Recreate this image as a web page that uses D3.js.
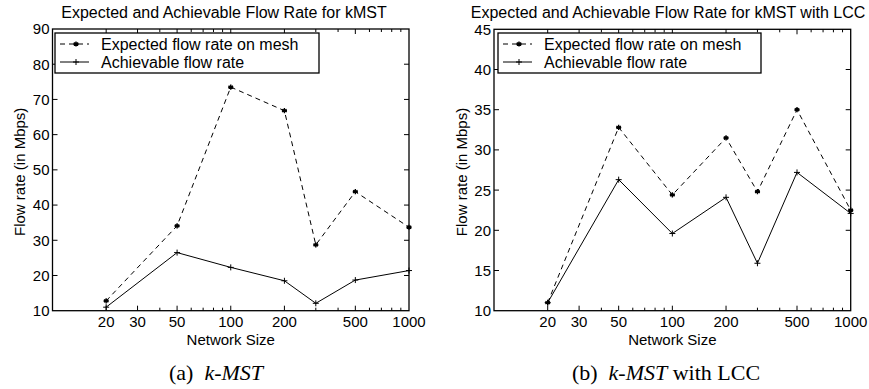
<!DOCTYPE html>
<html>
<head>
<meta charset="utf-8">
<script src="https://cdn.jsdelivr.net/npm/d3@7"></script>
<style>
  body { margin: 0; background: #fff; }
  svg { display: block; }
  .sans { font-family: "Liberation Sans", Arial, Helvetica, sans-serif; }
  .serif { font-family: "Liberation Serif", "Times New Roman", serif; }
</style>
</head>
<body>
<div class="flowChart"></div>
<script>
// network sizes on the log x axis
const networkSizes = [20, 50, 100, 200, 300, 500, 1000];
const xTickLabels = [20, 30, 50, 100, 200, 500, 1000];

// panel (a) k-MST
const expectedKmst = [12.8, 34.1, 73.5, 66.8, 28.7, 43.8, 33.7];
const achievableKmst = [11.0, 26.5, 22.3, 18.5, 12.1, 18.7, 21.4];
const yTicksKmst = [10, 20, 30, 40, 50, 60, 70, 80, 90];

// panel (b) k-MST with LCC
const expectedLcc = [11.0, 32.8, 24.4, 31.5, 24.8, 35.0, 22.5];
const achievableLcc = [11.0, 26.3, 19.6, 24.1, 15.9, 27.2, 22.1];
const yTicksLcc = [10, 15, 20, 25, 30, 35, 40, 45];

const legendLabels = ["Expected flow rate on mesh", "Achievable flow rate"];

const W = 869, H = 389;
const svg = d3.select(".flowChart").append("svg")
  .attr("width", W).attr("height", H);

// small "*" and "+" markers like the matlab ones
const starPath = (r) => {
  let p = "";
  for (let a = 0; a < 180; a += 60) {
    const t = (a + 90) * Math.PI / 180;
    p += `M${-r * Math.cos(t)},${-r * Math.sin(t)}L${r * Math.cos(t)},${r * Math.sin(t)}`;
  }
  return p + `M${-r},0L${r},0`;
};
const plusPath = (r) => `M${-r},0L${r},0M0,${-r}L0,${r}`;

const drawPanel = (opts) => {
  const { left, right, top, bottom, yMax, yTicks, expected, achievable,
    title, titleX, yLabelX, legend, caption, captionX } = opts;

  const x = d3.scaleLog().domain([10, 1000]).range([left, right]);
  const y = d3.scaleLinear().domain([10, yMax]).range([bottom, top]);
  const g = svg.append("g");

  // frame
  g.append("rect")
    .attr("x", left).attr("y", top)
    .attr("width", right - left).attr("height", bottom - top)
    .attr("fill", "none").attr("stroke", "#000").attr("stroke-width", 1.3);

  // x ticks: log minor ticks, inside, top and bottom
  const minor = [];
  for (let d = 10; d < 1000; d *= 10)
    for (let k = 1; k < 10; k++) minor.push(d * k);
  const xt = minor.filter((v) => v > 10 && v < 1000);
  xt.forEach((v) => {
    const len = xTickLabels.includes(v) ? 5 : 3;
    g.append("line").attr("x1", x(v)).attr("x2", x(v))
      .attr("y1", bottom).attr("y2", bottom - len)
      .attr("stroke", "#000").attr("stroke-width", 1);
    g.append("line").attr("x1", x(v)).attr("x2", x(v))
      .attr("y1", top).attr("y2", top + len)
      .attr("stroke", "#000").attr("stroke-width", 1);
  });

  // x tick labels
  g.selectAll(".xl").data(xTickLabels).enter().append("text")
    .attr("class", "sans")
    .attr("x", (d) => x(d)).attr("y", bottom + 16)
    .attr("text-anchor", "middle").attr("font-size", 15)
    .text((d) => d);

  // y ticks, both sides
  yTicks.forEach((v) => {
    if (v === yTicks[0] || v === yTicks[yTicks.length - 1]) return;
    g.append("line").attr("x1", left).attr("x2", left + 5)
      .attr("y1", y(v)).attr("y2", y(v)).attr("stroke", "#000");
    g.append("line").attr("x1", right).attr("x2", right - 5)
      .attr("y1", y(v)).attr("y2", y(v)).attr("stroke", "#000");
  });
  g.selectAll(".yl").data(yTicks).enter().append("text")
    .attr("class", "sans")
    .attr("x", left - 3).attr("y", (d) => y(d))
    .attr("dy", "0.36em")
    .attr("text-anchor", "end").attr("font-size", 15)
    .text((d) => d);

  // labels and title
  g.append("text").attr("class", "sans")
    .attr("x", (left + right) / 2).attr("y", bottom + 34)
    .attr("text-anchor", "middle").attr("font-size", 15)
    .text("Network Size");
  g.append("text").attr("class", "sans")
    .attr("transform", `translate(${yLabelX},${(top + bottom) / 2 + 2}) rotate(-90)`)
    .attr("text-anchor", "middle").attr("font-size", 15)
    .text("Flow rate (in Mbps)");
  g.append("text").attr("class", "sans")
    .attr("x", titleX).attr("y", 18)
    .attr("text-anchor", "middle").attr("font-size", 16)
    .text(title);

  // lines
  const line = d3.line().x((d) => x(d[0])).y((d) => y(d[1]));
  const expData = d3.zip(networkSizes, expected);
  const achData = d3.zip(networkSizes, achievable);
  g.append("path").datum(expData).attr("d", line)
    .attr("fill", "none").attr("stroke", "#000").attr("stroke-width", 1)
    .attr("stroke-dasharray", "5,4");
  g.append("path").datum(achData).attr("d", line)
    .attr("fill", "none").attr("stroke", "#000").attr("stroke-width", 1);
  g.selectAll(".pe").data(expData).enter().append("path")
    .attr("transform", (d) => `translate(${x(d[0])},${y(d[1])})`)
    .attr("d", starPath(2.6)).attr("stroke", "#000").attr("stroke-width", 1.4);
  g.selectAll(".pa").data(achData).enter().append("path")
    .attr("transform", (d) => `translate(${x(d[0])},${y(d[1])})`)
    .attr("d", plusPath(3)).attr("stroke", "#000").attr("stroke-width", 1);

  // legend
  const lg = g.append("g");
  lg.append("rect").attr("x", legend.x).attr("y", legend.y)
    .attr("width", legend.w).attr("height", legend.h)
    .attr("fill", "#fff").attr("stroke", "#000").attr("stroke-width", 1.3);
  legendLabels.forEach((lab, i) => {
    const ly = legend.y + 11 + i * 18;
    lg.append("line").attr("x1", legend.x + 5).attr("x2", legend.x + 34)
      .attr("y1", ly).attr("y2", ly).attr("stroke", "#000")
      .attr("stroke-dasharray", i === 0 ? "5,4" : null);
    lg.append("path").attr("transform", `translate(${legend.x + 21},${ly})`)
      .attr("d", i === 0 ? starPath(2.6) : plusPath(3))
      .attr("stroke", "#000").attr("stroke-width", i === 0 ? 1.4 : 1);
    lg.append("text").attr("class", "sans")
      .attr("x", legend.x + 46).attr("y", ly).attr("dy", "0.36em")
      .attr("font-size", 16).text(lab);
  });

  // subfigure caption
  const cap = g.append("text").attr("class", "serif")
    .attr("x", captionX).attr("y", 380)
    .attr("text-anchor", "middle").attr("font-size", 22);
  cap.append("tspan").text(caption[0] + "\u2002");
  cap.append("tspan").attr("font-style", "italic").text(caption[1]);
  if (caption[2]) cap.append("tspan").text(caption[2]);
};

drawPanel({
  left: 52.5, right: 409, top: 29, bottom: 310.7, yMax: 90,
  yTicks: yTicksKmst, expected: expectedKmst, achievable: achievableKmst,
  title: "Expected and Achievable Flow Rate for kMST", titleX: 224,
  yLabelX: 25, legend: { x: 55, y: 33, w: 264, h: 40 },
  caption: ["(a)", "k-MST"], captionX: 216,
});
drawPanel({
  left: 494, right: 850.7, top: 29.3, bottom: 310.7, yMax: 45,
  yTicks: yTicksLcc, expected: expectedLcc, achievable: achievableLcc,
  title: "Expected and Achievable Flow Rate for kMST with LCC", titleX: 668,
  yLabelX: 467, legend: { x: 498, y: 33, w: 263, h: 40 },
  caption: ["(b)", "k-MST", " with LCC"], captionX: 666,
});
</script>
</body>
</html>
